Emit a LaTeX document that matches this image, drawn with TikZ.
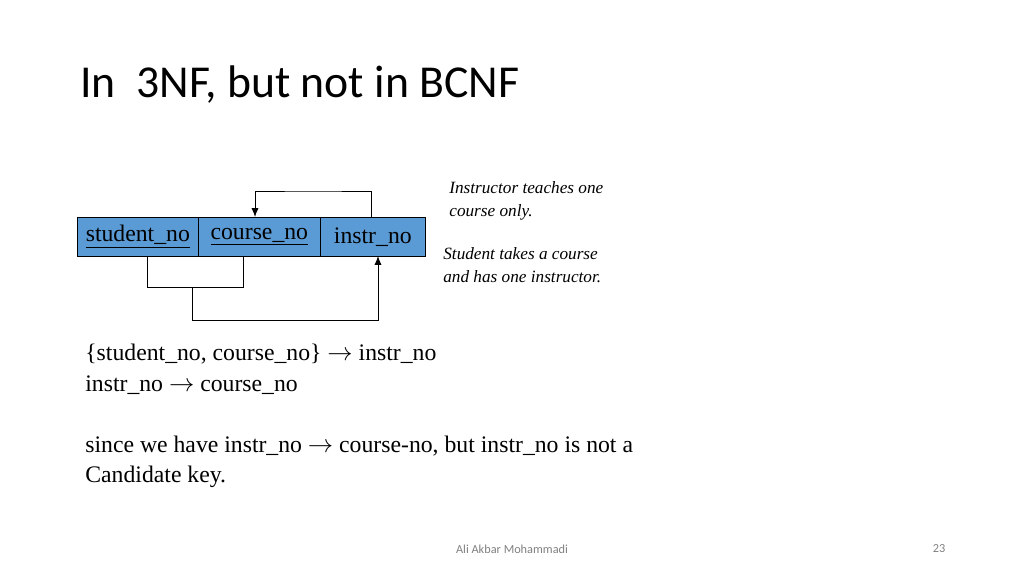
\documentclass[tikz,border=0pt]{standalone}
\usepackage{fontspec}
\setmainfont{Liberation Serif}
\newfontfamily\titlefont{Carlito}
\usetikzlibrary{positioning,arrows.meta}
\definecolor{cellblue}{RGB}{91,155,213}
\begin{document}
\begin{tikzpicture}[x=0.02cm,y=-0.02cm,
  cell/.style={draw,fill=cellblue,minimum height=0.78cm,inner sep=0pt,anchor=north west,font=\fontsize{13.5}{15}\selectfont},
  link/.style={draw,line width=0.5pt},
  body/.style={anchor=west,inner sep=0pt,font=\fontsize{13.5}{16}\selectfont},
  note/.style={anchor=west,inner sep=0pt,align=left,font=\fontsize{9.8}{13}\selectfont\itshape}]
\useasboundingbox (0,0) rectangle (1024,576);
\node[anchor=west,inner sep=0pt,font=\titlefont\fontsize{26}{30}\selectfont] (title) at (80,85) {In\ \ 3NF, but not in BCNF};
% relation
\node[cell,minimum width=2.42cm] (sno) at (77,217) {\underline{student\_no}};
\node[cell,minimum width=2.44cm] (cno) at (198,217) {\underline{course\_no}};
\node[cell,minimum width=2.10cm] (ino) at (320,217) {instr\_no};
% dependencies
\coordinate (c1) at (255,217);
\coordinate (i1) at (371,217);
\draw[link,-{Latex[length=5pt,width=4pt]}] (i1) |- (313,191) -| (c1);
\coordinate (s1) at (147,256);
\coordinate (c2) at (243,256);
\coordinate (j) at (192,287);
\coordinate (i2) at (378,256);
\draw[link] (s1) |- (j) -| (c2);
\draw[link,-{Latex[length=5pt,width=4pt]}] (j) |- (285,320) -| (i2);
% notes
\node[note] (n1) at (449,201) {Instructor teaches one\\course only.};
\node[note] (n2) at (443,265) {Student takes a course\\and has one instructor.};
% functional dependencies
\node[body] (fd1) at (85,354) {\{student\_no, course\_no\} $\rightarrow$ instr\_no};
\node[body] (fd2) at (85,385) {instr\_no $\rightarrow$ course\_no};
\node[body] (r1) at (85,446) {since we have instr\_no $\rightarrow$ course-no, but instr\_no is not a};
\node[body] (r2) at (85,477) {Candidate key.};
% footer
\node[font=\titlefont\fontsize{7}{8}\selectfont,text=gray] (auth) at (512,549) {Ali Akbar Mohammadi};
\node[font=\titlefont\fontsize{7}{8}\selectfont,text=gray] (pg) at (939,549) {23};
\end{tikzpicture}
\end{document}
